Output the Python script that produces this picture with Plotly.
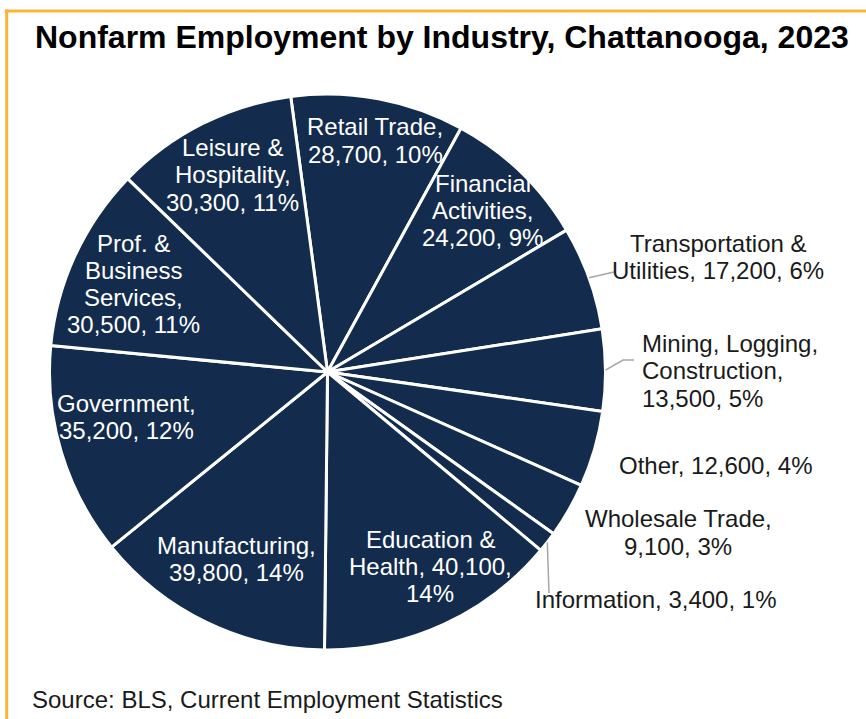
import math
import plotly.graph_objects as go

# ---------------- data ----------------
categories = [
    "Retail Trade", "Financial Activities", "Transportation & Utilities",
    "Mining, Logging, Construction", "Other", "Wholesale Trade", "Information",
    "Education & Health", "Manufacturing", "Government",
    "Prof. & Business Services", "Leisure & Hospitality",
]
employment = [28700, 24200, 17200, 13500, 12600, 9100, 3400,
              40100, 39800, 35200, 30500, 30300]
label_templates = [
    ["Retail Trade,", "{v}, {p}"],
    ["Financial", "Activities,", "{v}, {p}"],
    ["Transportation &", "Utilities, {v}, {p}"],
    ["Mining, Logging,", "Construction,", "{v}, {p}"],
    ["Other, {v}, {p}"],
    ["Wholesale Trade,", "{v}, {p}"],
    ["Information, {v}, {p}"],
    ["Education &", "Health, {v},", "{p}"],
    ["Manufacturing,", "{v}, {p}"],
    ["Government,", "{v}, {p}"],
    ["Prof. &", "Business", "Services,", "{v}, {p}"],
    ["Leisure &", "Hospitality,", "{v}, {p}"],
]
title_text = "Nonfarm Employment by Industry, Chattanooga, 2023"
source_text = "Source: BLS, Current Employment Statistics"

# ---------------- layout / style ----------------
W, H = 866, 719
NAVY = "#132B4D"
ORANGE = "#FBB535"
DARK = "#1A1A1A"
FONT = "Liberation Sans, Arial, sans-serif"
CX, CY, R = 327.5, 372.0, 278.0       # pie centre / radius in px
ROTATION = -7.6
LABEL_SIZE = 24
LINE_STEP = 27.3

# (x, y of first line, xanchor, colour) in px
label_pos = [
    (375, 127, "center", "white"),
    (483, 183, "center", "white"),
    (718, 243, "center", DARK),
    (640, 343.5, "left", DARK),
    (715.5, 465, "center", DARK),
    (678, 518.7, "center", DARK),
    (655, 599.5, "center", DARK),
    (430, 539, "center", "white"),
    (236, 545, "center", "white"),
    (127, 403, "center", "white"),
    (133, 243, "center", "white"),
    (232.5, 147.5, "center", "white"),
]
# leader lines: slice index -> further points (px) after the slice edge point
leaders = {
    2: [(614, 272)],
    3: [(623, 360), (634, 360)],
    6: [(549, 593)],
}


def px(x):
    return x / W


def py(y):
    return 1 - y / H


total = sum(employment)

fig = go.Figure(go.Pie(
    labels=categories,
    values=employment,
    sort=False,
    direction="clockwise",
    rotation=ROTATION,
    textinfo="none",
    hoverinfo="label+value+percent",
    marker=dict(colors=[NAVY] * len(categories),
                line=dict(color="white", width=3)),
    domain=dict(x=[px(CX - R), px(CX + R)], y=[py(CY + R), py(CY - R)]),
    showlegend=False,
))

annotations = []
for i, (tmpl, v) in enumerate(zip(label_templates, employment)):
    pct = f"{round(v / total * 100)}%"
    x0, y0, xa, col = label_pos[i]
    for k, line in enumerate(tmpl):
        annotations.append(dict(
            x=px(x0), y=py(y0 + k * LINE_STEP), xref="paper", yref="paper",
            text=line.format(v=f"{v:,}", p=pct), showarrow=False,
            xanchor=xa, yanchor="middle",
            font=dict(family=FONT, size=LABEL_SIZE, color=col),
        ))

annotations.append(dict(
    x=px(442), y=py(36.5), xref="paper", yref="paper", text=f"<b>{title_text}</b>",
    showarrow=False, xanchor="center", yanchor="middle",
    font=dict(family=FONT, size=32, color="black"),
))
annotations.append(dict(
    x=px(30), y=py(699.5), xref="paper", yref="paper", text=source_text,
    showarrow=False, xanchor="left", yanchor="middle",
    font=dict(family=FONT, size=24, color=DARK),
))

shapes = []
# leader lines computed from slice mid-angles
cum = 0.0
for i, v in enumerate(employment):
    mid = ROTATION + (cum + v / 2) / total * 360
    cum += v
    if i in leaders:
        a = math.radians(mid)
        ex, ey = CX + R * math.sin(a), CY - R * math.cos(a)
        pts = [(ex, ey)] + leaders[i]
        path = "M " + " L ".join(f"{px(x)},{py(y)}" for x, y in pts)
        shapes.append(dict(type="path", path=path, xref="paper", yref="paper",
                           line=dict(color="#A6A6A6", width=1.5)))

# orange frame (top and left)
shapes.append(dict(type="line", xref="paper", yref="paper",
                   x0=px(5), x1=1, y0=py(11), y1=py(11),
                   line=dict(color=ORANGE, width=3)))
shapes.append(dict(type="line", xref="paper", yref="paper",
                   x0=px(6.7), x1=px(6.7), y0=py(9.5), y1=0,
                   line=dict(color=ORANGE, width=3)))

fig.update_layout(
    width=W, height=H,
    margin=dict(l=0, r=0, t=0, b=0),
    paper_bgcolor="white", plot_bgcolor="white",
    annotations=annotations, shapes=shapes,
    font=dict(family=FONT),
)

fig.write_html(
    "out.html",
    config={"displayModeBar": False},
    post_script="document.body.style.margin='0px';document.body.style.padding='0px';",
)
